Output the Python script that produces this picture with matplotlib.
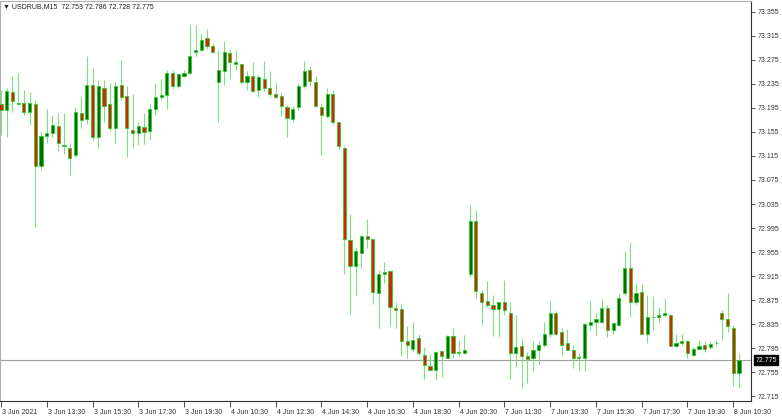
import numpy as np
import matplotlib
matplotlib.use("Agg")
import matplotlib.pyplot as plt
import matplotlib.transforms as mtransforms

plt.rcParams["font.family"] = ["Liberation Sans", "DejaVu Sans"]

symbol = "USDRUB,M15"

opens = [73.202, 73.192, 73.221, 73.203, 73.203, 73.188, 73.202, 73.098, 73.148, 73.154,
         73.165, 73.131, 73.129, 73.116, 73.187, 73.177, 73.233, 73.147, 73.229, 73.201,
         73.161, 73.233, 73.215, 73.159, 73.154, 73.164, 73.157, 73.194, 73.214, 73.217,
         73.254, 73.232, 73.249, 73.254, 73.288, 73.292, 73.311, 73.298, 73.238, 73.257,
         73.286, 73.269, 73.268, 73.238, 73.249, 73.225, 73.244, 73.229, 73.218, 73.215,
         73.197, 73.177, 73.196, 73.232, 73.258, 73.239, 73.196, 73.181, 73.218, 73.171,
         73.129, 72.975, 72.932, 72.954, 72.981, 72.976, 72.887, 72.918, 72.923, 72.861,
         72.860, 72.806, 72.794, 72.811, 72.784, 72.765, 72.759, 72.790, 72.779, 72.815,
         72.786, 72.786, 72.918, 73.007, 72.887, 72.873, 72.867, 72.860, 72.871, 72.853,
         72.787, 72.798, 72.781, 72.778, 72.792, 72.800, 72.818, 72.854, 72.821, 72.803,
         72.792, 72.779, 72.779, 72.834, 72.839, 72.839, 72.861, 72.825, 72.833, 72.886,
         72.929, 72.872, 72.888, 72.819, 72.846, 72.846, 72.850, 72.850, 72.799, 72.803,
         72.806, 72.783, 72.794, 72.800, 72.796, 72.803, 72.853, 72.844, 72.829, 72.753]

highs = [73.225, 73.229, 73.249, 73.254, 73.225, 73.221, 73.208, 73.156, 73.194, 73.183,
         73.186, 73.186, 73.136, 73.197, 73.213, 73.281, 73.261, 73.241, 73.242, 73.236,
         73.239, 73.275, 73.231, 73.219, 73.172, 73.186, 73.201, 73.236, 73.243, 73.258,
         73.258, 73.254, 73.258, 73.333, 73.333, 73.319, 73.326, 73.303, 73.292, 73.306,
         73.293, 73.292, 73.269, 73.256, 73.271, 73.250, 73.273, 73.257, 73.239, 73.222,
         73.200, 73.198, 73.236, 73.273, 73.265, 73.248, 73.204, 73.229, 73.225, 73.172,
         73.131, 73.018, 72.961, 72.984, 73.010, 72.977, 72.925, 72.939, 72.925, 72.872,
         72.868, 72.831, 72.839, 72.819, 72.796, 72.783, 72.790, 72.792, 72.817, 72.828,
         72.806, 72.817, 73.033, 73.025, 72.892, 72.906, 72.883, 72.872, 72.908, 72.872,
         72.850, 72.812, 72.789, 72.806, 72.806, 72.839, 72.873, 72.856, 72.828, 72.826,
         72.800, 72.786, 72.839, 72.873, 72.854, 72.876, 72.867, 72.837, 72.886, 72.957,
         72.972, 72.904, 72.902, 72.883, 72.881, 72.863, 72.878, 72.851, 72.819, 72.819,
         72.808, 72.797, 72.809, 72.806, 72.807, 72.808, 72.858, 72.887, 72.833, 72.786]

lows = [73.150, 73.147, 73.189, 73.200, 73.183, 73.167, 72.996, 73.092, 73.136, 73.146,
        73.123, 73.119, 73.083, 73.114, 73.161, 73.169, 73.142, 73.128, 73.172, 73.156,
        73.137, 73.208, 73.114, 73.128, 73.133, 73.135, 73.142, 73.183, 73.208, 73.193,
        73.226, 73.229, 73.247, 73.252, 73.281, 73.291, 73.293, 73.287, 73.172, 73.233,
        73.244, 73.258, 73.236, 73.225, 73.222, 73.214, 73.223, 73.214, 73.211, 73.181,
        73.146, 73.172, 73.192, 73.229, 73.232, 73.197, 73.116, 73.178, 73.169, 73.126,
        72.918, 72.851, 72.884, 72.928, 72.961, 72.869, 72.829, 72.903, 72.831, 72.828,
        72.782, 72.778, 72.789, 72.783, 72.743, 72.756, 72.741, 72.747, 72.778, 72.778,
        72.781, 72.785, 72.914, 72.878, 72.833, 72.864, 72.815, 72.814, 72.850, 72.744,
        72.764, 72.728, 72.736, 72.756, 72.768, 72.796, 72.813, 72.817, 72.783, 72.791,
        72.762, 72.759, 72.756, 72.825, 72.817, 72.836, 72.813, 72.819, 72.831, 72.883,
        72.847, 72.867, 72.818, 72.803, 72.825, 72.839, 72.847, 72.798, 72.797, 72.799,
        72.778, 72.782, 72.792, 72.789, 72.793, 72.800, 72.808, 72.822, 72.731, 72.728]

closes = [73.192, 73.223, 73.206, 73.202, 73.188, 73.203, 73.098, 73.148, 73.154, 73.166,
          73.136, 73.134, 73.112, 73.188, 73.175, 73.233, 73.147, 73.231, 73.198, 73.162,
          73.232, 73.214, 73.162, 73.154, 73.165, 73.155, 73.193, 73.213, 73.217, 73.254,
          73.232, 73.251, 73.253, 73.282, 73.292, 73.309, 73.299, 73.289, 73.259, 73.288,
          73.271, 73.272, 73.238, 73.249, 73.224, 73.247, 73.229, 73.219, 73.214, 73.199,
          73.178, 73.194, 73.232, 73.257, 73.240, 73.199, 73.183, 73.218, 73.171, 73.131,
          72.976, 72.931, 72.956, 72.982, 72.976, 72.888, 72.919, 72.922, 72.864, 72.858,
          72.806, 72.800, 72.808, 72.787, 72.766, 72.759, 72.788, 72.781, 72.815, 72.787,
          72.789, 72.792, 73.007, 72.890, 72.872, 72.867, 72.860, 72.871, 72.858, 72.787,
          72.796, 72.781, 72.776, 72.792, 72.800, 72.818, 72.853, 72.819, 72.800, 72.792,
          72.779, 72.780, 72.835, 72.839, 72.844, 72.861, 72.825, 72.836, 72.879, 72.929,
          72.872, 72.886, 72.819, 72.847, 72.847, 72.850, 72.853, 72.799, 72.803, 72.806,
          72.786, 72.794, 72.798, 72.794, 72.801, 72.804, 72.844, 72.831, 72.753, 72.775]

time_labels = ["3 Jun 2021", "3 Jun 13:30", "3 Jun 15:30", "3 Jun 17:30", "3 Jun 19:30",
               "4 Jun 10:30", "4 Jun 12:30", "4 Jun 14:30", "4 Jun 16:30", "4 Jun 18:30",
               "4 Jun 20:30", "7 Jun 11:30", "7 Jun 13:30", "7 Jun 15:30", "7 Jun 17:30",
               "7 Jun 19:30", "8 Jun 10:30"]
time_label_bars = list(range(0, 129, 8))

price_ticks = [73.355, 73.315, 73.275, 73.235, 73.195, 73.155, 73.115, 73.075, 73.035,
               72.995, 72.955, 72.915, 72.875, 72.835, 72.795, 72.755, 72.715]

o = np.array(opens)
h = np.array(highs)
l = np.array(lows)
c = np.array(closes)
x = np.arange(len(o))
up = c >= o

body_up = "#007000"
body_down = "#cc2a00"
edge = "#2fcc2f"
wick = "#7de07d"
fs = 5

fig = plt.figure(figsize=(7.82, 4.17), dpi=100)
ax = fig.add_axes([0, 16 / 417, 751 / 782, 400 / 417])

ax.vlines(x, l, h, color=wick, linewidth=0.8, zorder=2)

bottoms = np.minimum(o, c)
heights = np.maximum(np.abs(c - o), 0.0004)
ax.bar(x[up], heights[up], bottom=bottoms[up], width=0.55, color=body_up,
       edgecolor=edge, linewidth=0.6, zorder=3)
ax.bar(x[~up], heights[~up], bottom=bottoms[~up], width=0.55, color=body_down,
       edgecolor=edge, linewidth=0.6, zorder=3)

# bid line
last = closes[-1]
ax.axhline(last, color="#a0a0a0", linewidth=0.8, zorder=1)

ax.set_xlim(-0.175, 131.1)
ax.set_ylim(72.7067, 73.3733)

ax.yaxis.tick_right()
ax.set_yticks(price_ticks)
ax.set_yticklabels([f"{v:.3f}" for v in price_ticks])
ax.tick_params(axis="y", direction="out", length=3, width=0.6, pad=2,
               labelsize=fs, colors="#333333")

ax.set_xticks(time_label_bars)
ax.set_xticklabels(time_labels, ha="left")
ax.tick_params(axis="x", direction="out", length=4, width=0.6, pad=1.5,
               labelsize=fs, colors="#333333")
for lab in ax.get_xticklabels():
    lab.set_transform(lab.get_transform() + mtransforms.ScaledTranslation(1 / 100, 0, fig.dpi_scale_trans))

for side in ["left", "top"]:
    ax.spines[side].set_color("#b0b0b0")
    ax.spines[side].set_linewidth(0.8)
for side in ["right", "bottom"]:
    ax.spines[side].set_color("#303030")
    ax.spines[side].set_linewidth(0.8)

ax.annotate(f"{last:.3f}", xy=(1.0, last), xycoords=("axes fraction", "data"),
            xytext=(3, 0), textcoords="offset points", ha="left", va="center",
            fontsize=fs, color="white",
            bbox=dict(boxstyle="square,pad=0.15", facecolor="black", edgecolor="black"))

header = f"\u25bc {symbol}  {opens[-1]:.3f} {highs[-1]:.3f} {lows[-1]:.3f} {closes[-1]:.3f}"
ax.text(0.004, 0.994, header, transform=ax.transAxes, ha="left", va="top",
        fontsize=fs, color="#222222")

fig.savefig("out.png", dpi=100)
